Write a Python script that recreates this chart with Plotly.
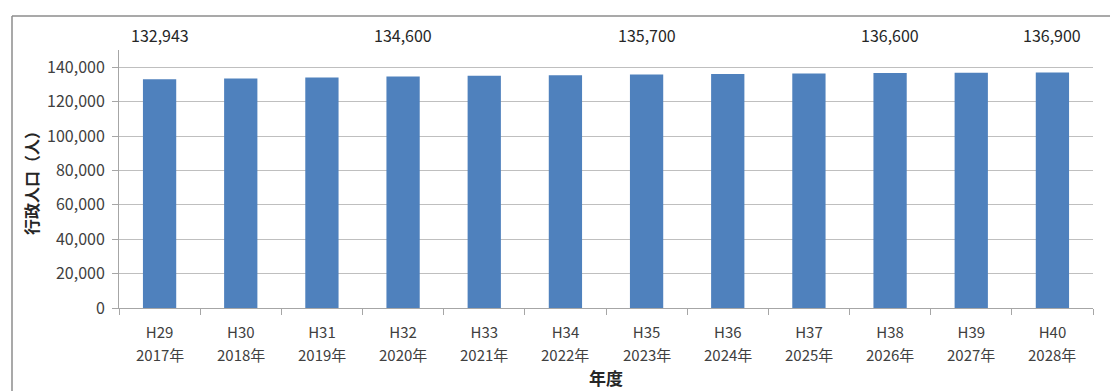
import plotly.graph_objects as go

heisei = ["H29", "H30", "H31", "H32", "H33", "H34", "H35", "H36", "H37", "H38", "H39", "H40"]
years = ["2017年", "2018年", "2019年", "2020年", "2021年", "2022年", "2023年", "2024年", "2025年", "2026年", "2027年", "2028年"]
population = [132943, 133500, 134000, 134600, 135000, 135300, 135700, 136000, 136300, 136600, 136800, 136900]
label_idx = [0, 3, 6, 9, 11]
label_text = ["132,943", "134,600", "135,700", "136,600", "136,900"]
y_ticks = [0, 20000, 40000, 60000, 80000, 100000, 120000, 140000]

FONT = "Noto Sans CJK JP"
W, H = 1110, 391
L, R, T, B = 119, 17, 50, 83
pw, ph = W - L - R, H - T - B

xs = list(range(len(heisei)))
boundaries = [i - 0.5 for i in range(len(heisei) + 1)]

fig = go.Figure()
fig.add_trace(go.Bar(x=xs, y=population, marker=dict(color="#4f81bd", line=dict(width=0)),
                     customdata=[f"{h} {y}" for h, y in zip(heisei, years)],
                     hovertemplate="%{customdata}: %{y:,}<extra></extra>"))

for i, t in zip(label_idx, label_text):
    fig.add_annotation(x=xs[i], y=1, yref="paper", yshift=15, text=t,
                       showarrow=False, yanchor="middle",
                       font=dict(family=FONT, size=16, color="#262626"))

# second line of the category labels (years)
for x, yr in zip(xs, years):
    fig.add_annotation(x=x, y=0, yref="paper", yshift=-46, text=yr,
                       showarrow=False, yanchor="middle",
                       font=dict(family=FONT, size=15, color="#404040"))

def px_to_paper_x(px):
    return (px - L) / pw

def py_to_paper_y(py):
    return (H - B - py) / ph

# outer chart frame (clipped by the page on the right and bottom)
fig.add_shape(type="line", xref="paper", yref="paper",
              x0=px_to_paper_x(12), x1=px_to_paper_x(1115),
              y0=py_to_paper_y(16), y1=py_to_paper_y(16),
              line=dict(color="#8c8c8c", width=1.5))
fig.add_shape(type="line", xref="paper", yref="paper",
              x0=px_to_paper_x(12), x1=px_to_paper_x(12),
              y0=py_to_paper_y(16), y1=py_to_paper_y(400),
              line=dict(color="#8c8c8c", width=1.5))

fig.update_layout(
    width=W, height=H,
    margin=dict(l=L, r=R, t=T, b=B),
    paper_bgcolor="white", plot_bgcolor="white",
    bargap=0.59,
    showlegend=False,
    font=dict(family=FONT, size=16, color="#404040"),
)
fig.update_xaxes(
    type="linear", range=[-0.5, len(heisei) - 0.5], automargin=False,
    tickvals=xs, ticktext=heisei, ticks="",
    minor=dict(tickvals=boundaries, ticks="outside", ticklen=6, tickcolor="#a6a6a6", showgrid=False),
    showline=True, linecolor="#a6a6a6", linewidth=1, mirror=False,
    ticklabelstandoff=11,
    tickfont=dict(family=FONT, size=15, color="#404040"),
    title=dict(text="<b>年度</b>", font=dict(family=FONT, size=17, color="#262626"), standoff=32),
    showgrid=False, zeroline=False,
)
fig.update_yaxes(
    range=[0, 150000], automargin=False,
    tickvals=y_ticks, tickformat=",d",
    showline=True, linecolor="#a6a6a6", linewidth=1, mirror=False,
    ticks="outside", ticklen=6, tickcolor="#a6a6a6",
    ticklabelstandoff=4,
    showgrid=True, gridcolor="#bfbfbf", gridwidth=1,
    zeroline=False,
    tickfont=dict(family=FONT, size=16, color="#404040"),
    title=dict(text="<b>行政人口（人）</b>", font=dict(family=FONT, size=16, color="#262626"), standoff=4),
)

fig.write_html("out.html")
